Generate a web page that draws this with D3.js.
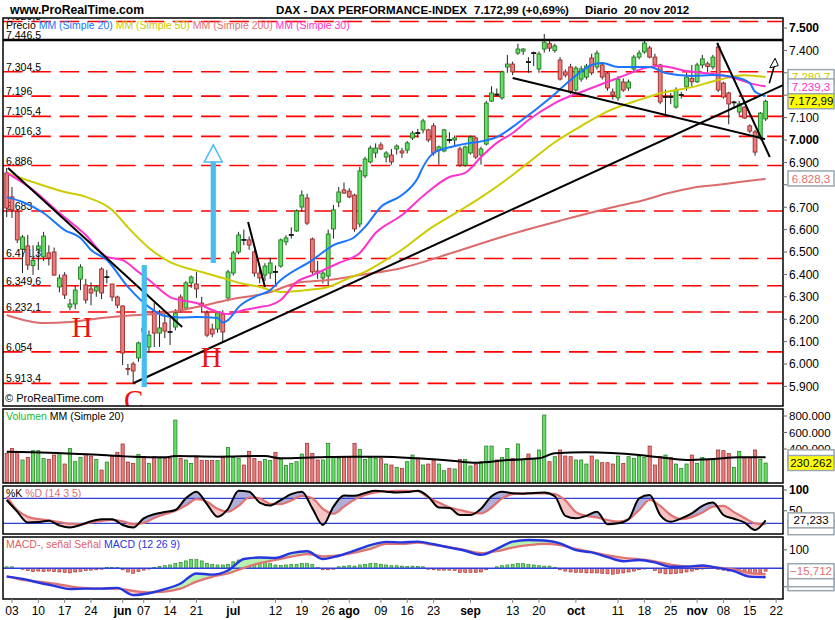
<!DOCTYPE html>
<html>
<head>
<meta charset="utf-8">
<title>DAX - DAX PERFORMANCE-INDEX</title>
<script src="https://cdn.jsdelivr.net/npm/d3@7/dist/d3.min.js"></script>
<style>
  body { margin: 0; background: #fff; }
  svg text { font-family: Arial, "Liberation Sans", sans-serif; }
</style>
</head>
<body>
<svg id="chart" width="835" height="620"></svg>
<script>
'use strict';

// Daily DAX candles, 2 May - 20 Nov 2012 (trading day index 0..144)
var openP = [
  6853, 6746, 6680, 6513, 6527, 6440, 6513, 6478, 6496, 6500,
  6344, 6397, 6254, 6268, 6379, 6353, 6335, 6326, 6424, 6385,
  6357, 6299, 6259, 5980, 6000, 6027, 6160, 6076, 6235, 6138,
  6183, 6146, 6165, 6299, 6250, 6362, 6357, 6272, 6228, 6156,
  6156, 6223, 6295, 6406, 6500, 6556, 6554, 6500, 6406, 6397,
  6406, 6412, 6437, 6545, 6575, 6594, 6701, 6741, 6558, 6415,
  6384, 6393, 6603, 6723, 6777, 6772, 6754, 6625, 6840, 6902,
  6942, 6978, 6924, 6933, 6960, 6951, 6955, 7009, 7032, 7045,
  7045, 7063, 6955, 6951, 7002, 7000, 6960, 6888, 6942, 7009,
  6933, 6982, 7174, 7205, 7188, 7326, 7339, 7388, 7397, 7350,
  7386, 7317, 7406, 7430, 7400, 7357, 7304, 7326, 7223, 7272,
  7281, 7366, 7326, 7335, 7299, 7214, 7188, 7259, 7232, 7317,
  7370, 7393, 7411, 7370, 7335, 7190, 7194, 7147, 7200, 7237,
  7275, 7260, 7335, 7340, 7326, 7415, 7254, 7210, 7165, 7125,
  7147, 7063, 7036, 7009, 7094
];
var highP = [
  6875, 6790, 6692, 6576, 6576, 6530, 6545, 6590, 6530, 6520,
  6400, 6410, 6290, 6350, 6445, 6380, 6365, 6350, 6432, 6420,
  6357, 6305, 6262, 6000, 6010, 6100, 6200, 6150, 6272, 6241,
  6228, 6210, 6245, 6310, 6370, 6395, 6411, 6300, 6240, 6180,
  6235, 6240, 6420, 6505, 6590, 6600, 6570, 6510, 6430, 6450,
  6475, 6440, 6560, 6575, 6610, 6690, 6775, 6760, 6565, 6460,
  6420, 6600, 6710, 6790, 6810, 6785, 6760, 6880, 6925, 6975,
  6985, 6990, 6950, 6960, 6980, 6965, 6995, 7040, 7050, 7095,
  7050, 7075, 6975, 7050, 7035, 7020, 6970, 6975, 7020, 7015,
  6970, 7175, 7240, 7230, 7310, 7380, 7350, 7430, 7410, 7370,
  7395, 7395, 7473, 7445, 7430, 7370, 7315, 7340, 7330, 7330,
  7340, 7385, 7400, 7345, 7305, 7230, 7285, 7275, 7270, 7380,
  7400, 7445, 7420, 7385, 7340, 7225, 7210, 7235, 7215, 7300,
  7335, 7345, 7380, 7350, 7380, 7433, 7260, 7215, 7175, 7175,
  7150, 7070, 7045, 7125, 7180
];
var lowP = [
  6656, 6652, 6540, 6406, 6420, 6398, 6420, 6460, 6440, 6395,
  6320, 6290, 6240, 6245, 6330, 6270, 6262, 6300, 6290, 6360,
  6280, 6250, 5995, 5950, 5914, 6010, 6100, 6050, 6076, 6076,
  6116, 6085, 6150, 6230, 6240, 6340, 6295, 6230, 6120, 6120,
  6140, 6098, 6280, 6395, 6490, 6530, 6510, 6390, 6360, 6370,
  6380, 6350, 6430, 6530, 6560, 6590, 6680, 6620, 6400, 6380,
  6360, 6350, 6560, 6700, 6760, 6740, 6590, 6610, 6830, 6895,
  6920, 6955, 6900, 6890, 6935, 6920, 6940, 7000, 7010, 7030,
  6990, 6930, 6890, 6945, 6985, 6975, 6880, 6880, 6935, 6915,
  6890, 6975, 7170, 7195, 7180, 7300, 7290, 7380, 7380, 7300,
  7330, 7300, 7390, 7395, 7390, 7265, 7280, 7205, 7215, 7260,
  7270, 7290, 7315, 7270, 7220, 7180, 7175, 7215, 7220, 7305,
  7360, 7385, 7365, 7325, 7160, 7110, 7160, 7140, 7185, 7220,
  7240, 7255, 7320, 7300, 7315, 7215, 7185, 7070, 7140, 7110,
  7095, 7030, 6930, 7000, 7085
];
var closeP = [
  6696, 6688, 6554, 6567, 6442, 6462, 6527, 6571, 6473, 6397,
  6384, 6308, 6268, 6330, 6433, 6286, 6317, 6344, 6317, 6388,
  6299, 6263, 6049, 5976, 5969, 6094, 6144, 6129, 6138, 6161,
  6147, 6143, 6228, 6241, 6362, 6388, 6335, 6259, 6129, 6134,
  6228, 6143, 6411, 6496, 6576, 6554, 6531, 6406, 6384, 6437,
  6451, 6411, 6554, 6563, 6576, 6683, 6754, 6629, 6411, 6406,
  6406, 6580, 6688, 6768, 6763, 6746, 6603, 6862, 6915, 6964,
  6964, 6960, 6942, 6902, 6973, 6942, 6987, 7031, 7031, 7085,
  7000, 6942, 6969, 7045, 7000, 7009, 6888, 6969, 7013, 6924,
  6960, 7165, 7210, 7203, 7304, 7339, 7304, 7406, 7406, 7348,
  7388, 7384, 7437, 7410, 7420, 7272, 7290, 7214, 7321, 7317,
  7330, 7300, 7388, 7281, 7232, 7201, 7272, 7223, 7259, 7370,
  7388, 7433, 7370, 7335, 7170, 7192, 7192, 7223, 7201, 7281,
  7260, 7335, 7362, 7328, 7370, 7223, 7192, 7161, 7168, 7161,
  7098, 7040, 6946, 7120, 7172.99
];
// volume in thousands
var volume = [
  347, 408, 360, 267, 299, 380, 380, 287, 275, 327,
  347, 218, 408, 246, 299, 339, 315, 275, 145, 242,
  307, 360, 461, 242, 226, 335, 307, 226, 307, 287,
  287, 287, 751, 287, 267, 226, 299, 259, 259, 259,
  259, 299, 420, 299, 287, 206, 372, 287, 246, 275,
  259, 356, 275, 202, 226, 246, 339, 469, 347, 267,
  267, 469, 299, 287, 299, 299, 469, 396, 275, 299,
  287, 283, 218, 206, 178, 166, 246, 327, 287, 206,
  218, 267, 218, 137, 166, 158, 275, 275, 194, 218,
  246, 436, 436, 267, 299, 408, 287, 461, 275, 339,
  287, 388, 812, 246, 307, 388, 315, 307, 267, 267,
  218, 315, 267, 234, 234, 218, 315, 226, 307, 287,
  315, 299, 436, 206, 307, 327, 299, 218, 166, 218,
  327, 226, 299, 267, 267, 388, 380, 347, 178, 368,
  299, 299, 388, 275, 230.262
];

// moving averages: [day index, value]
var ma20 = [[0,6745],[3,6723],[7,6674],[11,6598],[14,6563],[16,6509],[19,6464],[23,6344],[27,6254],[30,6214],
  [33,6208],[36,6210],[40,6205],[41,6185],[42,6196],[44,6254],[47,6299],[50,6330],[52,6375],[58,6464],
  [62,6531],[66,6567],[68,6612],[71,6701],[75,6754],[78,6830],[79,6880],[81,6942],[85,6973],[93,7013],
  [97,7076],[103,7185],[107,7268],[111,7335],[113,7344],[116,7326],[122,7326],[125,7299],[130,7286],
  [134,7290],[138,7281],[141,7254],[142,7215],[144,7196]];
var ma30 = [[0,6853],[5,6777],[10,6674],[15,6576],[19,6478],[22,6464],[25,6411],[27,6375],[31,6299],[34,6281],
  [36,6272],[39,6241],[42,6223],[45,6241],[48,6254],[50,6263],[52,6286],[55,6366],[58,6397],[63,6451],
  [67,6496],[70,6585],[75,6665],[79,6750],[84,6835],[87,6853],[90,6924],[93,6987],[96,7031],[99,7089],
  [104,7165],[110,7223],[116,7277],[122,7326],[124,7330],[129,7308],[134,7295],[138,7277],[141,7254],[144,7239]];
var ma50 = [[0,6853],[5,6812],[11,6768],[15,6746],[20,6688],[23,6610],[27,6518],[31,6455],[34,6429],[37,6411],
  [41,6384],[45,6357],[48,6344],[50,6330],[52,6321],[57,6330],[61,6344],[65,6384],[68,6411],[71,6451],
  [75,6510],[80,6599],[85,6671],[90,6744],[95,6826],[99,6899],[104,6990],[109,7062],[114,7128],[120,7179],
  [125,7214],[130,7236],[135,7268],[140,7289],[144,7281]];
var ma200 = [[0,6219],[7,6183],[12,6187],[18,6205],[22,6214],[25,6219],[30,6228],[36,6254],[42,6286],[50,6321],
  [55,6362],[61,6375],[67,6397],[75,6429],[85,6500],[95,6575],[105,6640],[115,6700],[121,6732],[125,6760],
  [130,6786],[135,6800],[139,6812],[144,6826]];
var volMa = [[0,368],[8,356],[18,327],[24,307],[30,299],[32,315],[40,307],[49,315],[52,287],[59,299],
  [65,307],[71,307],[78,287],[85,255],[89,234],[95,267],[101,287],[104,347],[110,360],[120,327],
  [124,299],[129,267],[134,279],[139,299],[144,299]];

// stochastic %K / %D (14 3 5), read every second day
var stochIdx = d3.range(0, 145, 2);
var stochK = [76,48,22,23,26,15,10,16,25,30, 30,16,10,32,42,47,52,80,96,66, 36,55,98,96,70,63,76,90,96,56,
  16,60,87,86,93,98,96,94,95,98, 84,58,57,40,40,55,85,96,92,91, 93,94,85,38,32,38,48,18,20,30,
  80,88,40,24,32,44,62,70,40,31, 22,4,27.233];
var stochD = [84,52,36,30,27,23,19,18,22,26, 28,25,18,21,33,42,50,63,78,72, 55,48,62,82,80,67,66,75,86,80,
  55,43,60,77,88,94,97,98,98,97, 82,70,58,52,46,44,58,80,90,92, 92,92,90,75,47,38,34,28,24,30,
  52,76,62,40,30,35,46,60,62,47, 33,20,18];

// MACD (12 26 9), read every third day; histogram per day
var macdIdx = d3.range(0, 145, 3);
var macdLine = [-45,-57,-77,-95,-112,-110,-110,-106,-145,-135, -113,-82,-28,-34,-12,50,58,56,82,92,
  50,68,95,125,143,140,144,130,112,95, 73,105,144,153,150,135,98,86,60,38, 45,32,8,9,15,2,-15,-45,-48];
var signalLine = [-43,-63,-72,-83,-97,-107,-110,-110,-122,-130, -126,-110,-72,-46,-28,2,28,45,63,77,
  65,70,85,105,132,132,138,126,114,98, 82,92,112,125,132,125,105,88,70,57, 49,38,20,10,9,4,-6,-26,-32];
var macdHist = [
  8, 8, 0, -5, -12, -18, -15, -18, -15, -18,
  -20, -22, -25, -20, -18, -12, -10, -8, -5, 5,
  5, 4, -8, -20, -28, -18, -10, -4, 5, 10,
  14, 18, 25, 32, 40, 49, 47, 40, 27, 20,
  18, 18, 22, 35, 45, 52, 55, 50, 42, 35,
  25, 18, 15, 18, 20, 22, 25, 25, 20, 5,
  -8, -8, -5, 8, 12, 14, 12, 18, 22, 25,
  25, 22, 18, 14, 14, 12, 10, 12, 10, 8,
  -5, -8, -10, -10, -10, -12, -22, -22, -22, -22,
  -20, -8, 0, 8, 14, 18, 20, 25, 25, 20,
  18, 14, 12, 12, 5, -8, -15, -20, -22, -22,
  -25, -25, -25, -28, -30, -32, -28, -25, -20, -15,
  -8, -4, 0, -12, -25, -30, -30, -28, -25, -20,
  -15, -8, -4, 4, 8, -5, -10, -15, -18, -18,
  -20, -25, -32, -25, -15.712
];

// support / resistance levels drawn as dashed red lines
var levelLines = [7529.3, 7304.5, 7196, 7105.4, 7016.3, 6886, 6683, 6471.3, 6349.6, 6232.1, 6054, 5913.4];
var resistanceLevel = 7446.5;
// trend lines: [[day, price], [day, price]]
var trendLines = [
  [[0.25, 6875], [33.3, 6165]],
  [[24, 5914], [147.3, 7245]],
  [[96, 7277], [143.9, 7004]],
  [[45.8, 6634], [49, 6344]],
  [[134.8, 7433], [144.8, 6924]]
];
var letterMarks = [{t: 'H', i: 14.3, p: 6121}, {t: 'H', i: 38.8, p: 5987}, {t: 'C', i: 24.1, p: 5795}];

// x axis
var tickIdx = [1, 6, 11, 16, 22, 26, 31, 36, 43, 51, 56, 61, 65, 71, 76, 81, 88, 96, 101, 108, 116, 121, 126, 131, 136, 141, 146];
var tickLabels = ['03','10','17','24','jun','07','14','21','jul','12','19','26','ago','09','16','23','sep','13','20','oct','11','18','25','nov','08','15','22'];
var monthLabels = ['jun','jul','ago','sep','oct','nov'];
// price axis: labels hidden behind value boxes are left out
var priceTicks = d3.range(5900, 7501, 100);
var hiddenPriceTicks = [7300, 7200, 6800];
var boldPriceTicks = [7500, 7000];
var volTicks = [800, 600, 400];

// last values shown in the right-hand boxes
var lastMa50 = 7280.7, lastMa30 = 7239.3, lastMa200 = 6828.3;
var lastVolMa = 299.379;

// ---- layout ----
var plotL = 3, plotR = 783;
var panelMain  = {top: 18,  bottom: 406};
var panelVol   = {top: 409, bottom: 483};
var panelStoch = {top: 486, bottom: 534};
var panelMacd  = {top: 537, bottom: 599};

var x = d3.scaleLinear().domain([0, 144]).range([6.7, 765.6]);
var yP = d3.scaleLinear().domain([5900, 7500]).range([386.4, 28]);
var yV = d3.scaleLinear().domain([0, 800]).range([482, 416]);
var yS = d3.scaleLinear().domain([0, 100]).range([531.7, 490]);
var yM = d3.scaleLinear().domain([-100, 100]).range([586.8, 549.8]);

var loc = d3.formatLocale({decimal: ',', thousands: '.', grouping: [3], currency: ['', '']});
var fInt = loc.format(',d'), f1 = loc.format(',.1f'), f2 = loc.format(',.2f'), f3 = loc.format(',.3f');
var fmtLevel = function(v) { return Number.isInteger(v) ? fInt(v) : f1(v); };

var GREEN = '#66dd66', GREEN_S = '#1f7a1f', RED = '#e87d7d', RED_S = '#9b2a2a';
var svg = d3.select('#chart');
var defs = svg.append('defs');
svg.append('rect').attr('width', 835).attr('height', 620).attr('fill', '#fff');

function clipFor(id, p) {
  defs.append('clipPath').attr('id', id).append('rect')
    .attr('x', plotL).attr('y', p.top).attr('width', plotR - plotL).attr('height', p.bottom - p.top);
  return 'url(#' + id + ')';
}

// ---- main price panel ----
var gMain = svg.append('g').attr('clip-path', clipFor('clipMain', panelMain));

gMain.selectAll('line.lvl').data(levelLines).join('line')
  .attr('x1', plotL).attr('x2', plotR)
  .attr('y1', function(d) { return yP(d); }).attr('y2', function(d) { return yP(d); })
  .attr('stroke', '#ff0000').attr('stroke-width', 1.6).attr('stroke-dasharray', '19.5,8.8');

gMain.append('line').attr('x1', plotL).attr('x2', plotR)
  .attr('y1', yP(resistanceLevel)).attr('y2', yP(resistanceLevel))
  .attr('stroke', '#000').attr('stroke-width', 2.5);

gMain.selectAll('text.lvl').data(levelLines.concat([resistanceLevel])).join('text')
  .attr('x', 6).attr('y', function(d) { return yP(d) - 1; })
  .attr('font-size', 10.5).attr('fill', '#000').text(fmtLevel);

// candles
var days = d3.range(openP.length);
var gC = gMain.append('g');
gC.selectAll('line.wick').data(days).join('line')
  .attr('x1', function(i) { return x(i); }).attr('x2', function(i) { return x(i); })
  .attr('y1', function(i) { return yP(highP[i]); }).attr('y2', function(i) { return yP(lowP[i]); })
  .attr('stroke', '#222').attr('stroke-width', 1);
gC.selectAll('rect.body').data(days.filter(function(i) { return Math.abs(closeP[i] - openP[i]) >= 4; })).join('rect')
  .attr('x', function(i) { return x(i) - 1.9; }).attr('width', 3.8)
  .attr('y', function(i) { return yP(Math.max(openP[i], closeP[i])); })
  .attr('height', function(i) { return Math.abs(yP(openP[i]) - yP(closeP[i])); })
  .attr('fill', function(i) { return closeP[i] >= openP[i] ? GREEN : RED; })
  .attr('stroke', function(i) { return closeP[i] >= openP[i] ? GREEN_S : RED_S; })
  .attr('stroke-width', 0.9);
gC.selectAll('line.doji').data(days.filter(function(i) { return Math.abs(closeP[i] - openP[i]) < 4; })).join('line')
  .attr('x1', function(i) { return x(i) - 2.5; }).attr('x2', function(i) { return x(i) + 2.5; })
  .attr('y1', function(i) { return yP(closeP[i]); }).attr('y2', function(i) { return yP(closeP[i]); })
  .attr('stroke', '#111').attr('stroke-width', 1.8);

// moving averages
var maLine = d3.line().curve(d3.curveMonotoneX)
  .x(function(d) { return x(d[0]); }).y(function(d) { return yP(d[1]); });
[[ma200, '#dc6c6c'], [ma50, '#cccc00'], [ma30, '#ff33cc'], [ma20, '#1a75ff']].forEach(function(m) {
  gMain.append('path').attr('d', maLine(m[0])).attr('fill', 'none')
    .attr('stroke', m[1]).attr('stroke-width', 2);
});

// trend lines
gMain.selectAll('line.trend').data(trendLines).join('line')
  .attr('x1', function(d) { return x(d[0][0]); }).attr('y1', function(d) { return yP(d[0][1]); })
  .attr('x2', function(d) { return x(d[1][0]); }).attr('y2', function(d) { return yP(d[1][1]); })
  .attr('stroke', '#000').attr('stroke-width', 2);

// small up arrow at the right end
var arrowShaft = [[144.7, 7253], [145.6, 7327]];
var arrowHead = [[144.8, 7322], [145.8, 7365], [146.4, 7332]];
gMain.append('line')
  .attr('x1', x(arrowShaft[0][0])).attr('y1', yP(arrowShaft[0][1]))
  .attr('x2', x(arrowShaft[1][0])).attr('y2', yP(arrowShaft[1][1]))
  .attr('stroke', '#000').attr('stroke-width', 1.5);
gMain.append('path')
  .attr('d', d3.line().x(function(d) { return x(d[0]); }).y(function(d) { return yP(d[1]); })(arrowHead) + 'Z')
  .attr('fill', '#fff').attr('stroke', '#000').attr('stroke-width', 1);

// light blue bars / arrow
var blueBars = [{i: 26.1, lo: 5897, hi: 6442}, {i: 39.2, lo: 6451, hi: 6902}];
gMain.selectAll('rect.blue').data(blueBars).join('rect')
  .attr('x', function(d) { return x(d.i) - 2.6; }).attr('width', 5.2)
  .attr('y', function(d) { return yP(d.hi); })
  .attr('height', function(d) { return yP(d.lo) - yP(d.hi); })
  .attr('fill', '#48bdf0');
var blueHead = [[37.5, 6902], [39.2, 6978], [40.9, 6902]];
gMain.append('path')
  .attr('d', d3.line().x(function(d) { return x(d[0]); }).y(function(d) { return yP(d[1]); })(blueHead) + 'Z')
  .attr('fill', '#fff').attr('stroke', '#48bdf0').attr('stroke-width', 1.5);

// H / C letters
gMain.selectAll('text.mark').data(letterMarks).join('text')
  .attr('x', function(d) { return x(d.i); }).attr('y', function(d) { return yP(d.p); })
  .attr('text-anchor', 'middle').attr('fill', '#ee1111')
  .style('font-family', '"Liberation Serif", "Times New Roman", serif').style('font-size', '29px')
  .text(function(d) { return d.t; });

// legend
var legMain = gMain.append('text').attr('x', 6).attr('y', 28.5).attr('font-size', 10.5);
[['Precio ', '#000'], ['MM (Simple 20) ', '#1a75ff'], ['MM (Simple 50) ', '#c8c800'],
 ['MM (Simple 200) ', '#e07070'], ['MM (Simple 30)', '#ff33cc']].forEach(function(p) {
  legMain.append('tspan').attr('fill', p[1]).text(p[0]);
});
gMain.append('text').attr('x', 5).attr('y', 402).attr('font-size', 11).text('\u00a9 ProRealTime.com');

// ---- volume panel ----
var gVol = svg.append('g').attr('clip-path', clipFor('clipVol', panelVol));
gVol.selectAll('rect').data(days).join('rect')
  .attr('x', function(i) { return x(i) - 1.6; }).attr('width', 3.2)
  .attr('y', function(i) { return yV(volume[i]); })
  .attr('height', function(i) { return panelVol.bottom - yV(volume[i]); })
  .attr('fill', function(i) { return closeP[i] >= openP[i] ? GREEN : RED; })
  .attr('stroke', function(i) { return closeP[i] >= openP[i] ? GREEN_S : RED_S; })
  .attr('stroke-width', 0.7);
gVol.append('path')
  .attr('d', d3.line().curve(d3.curveMonotoneX).x(function(d) { return x(d[0]); }).y(function(d) { return yV(d[1]); })(volMa))
  .attr('fill', 'none').attr('stroke', '#000').attr('stroke-width', 2);
var legVol = gVol.append('text').attr('x', 6).attr('y', 420).attr('font-size', 10.5);
legVol.append('tspan').attr('fill', '#22bb22').text('Volumen ');
legVol.append('tspan').attr('fill', '#000').text('MM (Simple 20)');

// two-coloured fill between two series sampled at the same days
function fillBetween(g, idx, a, b, y, p, colUp, colDown, id) {
  var pts = idx.map(function(d, j) { return {i: d, a: a[j], b: b[j]}; });
  var area = function(key, y0) {
    return d3.area().curve(d3.curveMonotoneX).x(function(d) { return x(d.i); })
      .y0(y0).y1(function(d) { return y(d[key]); })(pts);
  };
  defs.append('clipPath').attr('id', id + 'AboveB').append('path').attr('d', area('b', p.top));
  defs.append('clipPath').attr('id', id + 'AboveA').append('path').attr('d', area('a', p.top));
  g.append('path').attr('d', area('a', p.bottom)).attr('fill', colUp).attr('clip-path', 'url(#' + id + 'AboveB)');
  g.append('path').attr('d', area('b', p.bottom)).attr('fill', colDown).attr('clip-path', 'url(#' + id + 'AboveA)');
}
function seriesLine(idx, vals, y) {
  return d3.line().curve(d3.curveMonotoneX)
    .x(function(d, j) { return x(idx[j]); }).y(function(d) { return y(d); })(vals);
}

// ---- stochastic panel ----
var gSto = svg.append('g').attr('clip-path', clipFor('clipSto', panelStoch));
fillBetween(gSto, stochIdx, stochK, stochD, yS, panelStoch, '#aeb0da', '#f6c4c4', 'sto');
[80, 20].forEach(function(v) {
  gSto.append('line').attr('x1', plotL).attr('x2', plotR).attr('y1', yS(v)).attr('y2', yS(v))
    .attr('stroke', '#2f3fd8').attr('stroke-width', 1.4);
});
gSto.append('path').attr('d', seriesLine(stochIdx, stochD, yS)).attr('fill', 'none')
  .attr('stroke', '#e07272').attr('stroke-width', 2.2);
gSto.append('path').attr('d', seriesLine(stochIdx, stochK, yS)).attr('fill', 'none')
  .attr('stroke', '#000').attr('stroke-width', 2);
var legSto = gSto.append('text').attr('x', 6).attr('y', 497).attr('font-size', 10.5);
legSto.append('tspan').attr('fill', '#000').text('%K ');
legSto.append('tspan').attr('fill', '#e07070').text('%D (14 3 5)');

// ---- MACD panel ----
var gMacd = svg.append('g').attr('clip-path', clipFor('clipMacd', panelMacd));
gMacd.selectAll('rect').data(days).join('rect')
  .attr('x', function(i) { return x(i) - 1.5; }).attr('width', 3)
  .attr('y', function(i) { return Math.min(yM(0), yM(macdHist[i])); })
  .attr('height', function(i) { return Math.abs(yM(macdHist[i]) - yM(0)); })
  .attr('fill', function(i) { return macdHist[i] >= 0 ? GREEN : RED; })
  .attr('stroke', function(i) { return macdHist[i] >= 0 ? GREEN_S : RED_S; })
  .attr('stroke-width', 0.6);
fillBetween(gMacd, macdIdx, macdLine, signalLine, yM, panelMacd, '#b8f2b0', '#f6c2c2', 'macd');
gMacd.append('line').attr('x1', plotL).attr('x2', plotR).attr('y1', yM(0)).attr('y2', yM(0))
  .attr('stroke', '#2f3fd8').attr('stroke-width', 1.4);
gMacd.append('path').attr('d', seriesLine(macdIdx, signalLine, yM)).attr('fill', 'none')
  .attr('stroke', '#e07272').attr('stroke-width', 2.2);
gMacd.append('path').attr('d', seriesLine(macdIdx, macdLine, yM)).attr('fill', 'none')
  .attr('stroke', '#2536e0').attr('stroke-width', 2.4);
var legMacd = gMacd.append('text').attr('x', 6).attr('y', 548).attr('font-size', 10.5);
legMacd.append('tspan').attr('fill', '#e06060').text('MACD-, se\u00f1al Se\u00f1al ');
legMacd.append('tspan').attr('fill', '#2536e0').text('MACD (12 26 9)');

// ---- panel borders ----
[panelMain, panelVol, panelStoch, panelMacd].forEach(function(p) {
  svg.append('rect').attr('x', plotL).attr('y', p.top).attr('width', plotR - plotL).attr('height', p.bottom - p.top)
    .attr('fill', 'none').attr('stroke', '#000').attr('stroke-width', 1.5);
});

// ---- right axes ----
var gAx = svg.append('g');
function rightTicks(vals, y, fmt, bold, size, hidden) {
  vals.forEach(function(v) {
    gAx.append('line').attr('x1', plotR).attr('x2', plotR + 4).attr('y1', y(v)).attr('y2', y(v))
      .attr('stroke', '#666');
    if (hidden && hidden.indexOf(v) >= 0) return;
    gAx.append('text').attr('x', plotR + 6).attr('y', y(v)).attr('dy', '0.36em')
      .attr('font-size', size).attr('font-weight', bold(v) ? 'bold' : 'normal').text(fmt(v));
  });
}
rightTicks(priceTicks, yP, fInt, function(v) { return boldPriceTicks.indexOf(v) >= 0; }, 12, hiddenPriceTicks);
rightTicks(volTicks, yV, function(v) { return fInt(v * 1000); }, function() { return false; }, 11.5);
rightTicks([100, 50], yS, fInt, function(v) { return v === 100; }, 12);
rightTicks([100, -100], yM, fInt, function() { return false; }, 12);

// value boxes; a box whose label is covered by the next box is drawn empty
function valueBox(yc, label, color, bg) {
  gAx.append('rect').attr('x', plotR + 5).attr('y', yc - 7.5).attr('width', 46).attr('height', 15)
    .attr('fill', bg || '#fff').attr('stroke', '#9aa6b0').attr('stroke-width', 1.5);
  if (label === null) return;
  gAx.append('text').attr('x', plotR + 28).attr('y', yc).attr('dy', '0.36em').attr('text-anchor', 'middle')
    .attr('font-size', 11.5).attr('fill', color).text(label);
}
valueBox(yP(lastMa50), f1(lastMa50), '#cccc00');
valueBox(yP(lastMa30), f1(lastMa30), '#ff33cc');
valueBox(yP(closeP[closeP.length - 1]), f2(closeP[closeP.length - 1]), '#000', '#ffff00');
valueBox(yP(lastMa200), f1(lastMa200), '#e07070');
valueBox(yV(lastVolMa), null);
valueBox(yV(volume[volume.length - 1]), fInt(volume[volume.length - 1] * 1000), '#000', '#ffff00');
valueBox(yS(stochD[stochD.length - 1]) + 3, null);
valueBox(yS(stochK[stochK.length - 1]), f3(stochK[stochK.length - 1]), '#000');
valueBox(yM(macdLine[macdLine.length - 1]) + 6, null);
valueBox(yM(signalLine[signalLine.length - 1]) + 5, null);
valueBox(yM(macdHist[macdHist.length - 1]), f3(macdHist[macdHist.length - 1]), '#e07070');

// ---- x axis ----
tickIdx.forEach(function(i, k) {
  svg.append('line').attr('x1', x(i)).attr('x2', x(i)).attr('y1', panelMacd.bottom).attr('y2', panelMacd.bottom + 4)
    .attr('stroke', '#888');
  svg.append('text').attr('x', x(i)).attr('y', 615).attr('text-anchor', 'middle').attr('font-size', 12)
    .attr('font-weight', monthLabels.indexOf(tickLabels[k]) >= 0 ? 'bold' : 'normal')
    .text(tickLabels[k]);
});

// ---- header ----
var hdr = [['www.ProRealTime.com', 10, 12.2], ['DAX - DAX PERFORMANCE-INDEX', 276, 11.5],
  [f2(closeP[closeP.length - 1]) + ' (+0,69%)', 474, 11.5], ['Diario', 585, 11.5], ['20 nov 2012', 624, 11.5]];
hdr.forEach(function(h) {
  svg.append('text').attr('x', h[1]).attr('y', 13.5).attr('font-size', h[2]).attr('font-weight', 'bold').text(h[0]);
});
</script>
</body>
</html>
